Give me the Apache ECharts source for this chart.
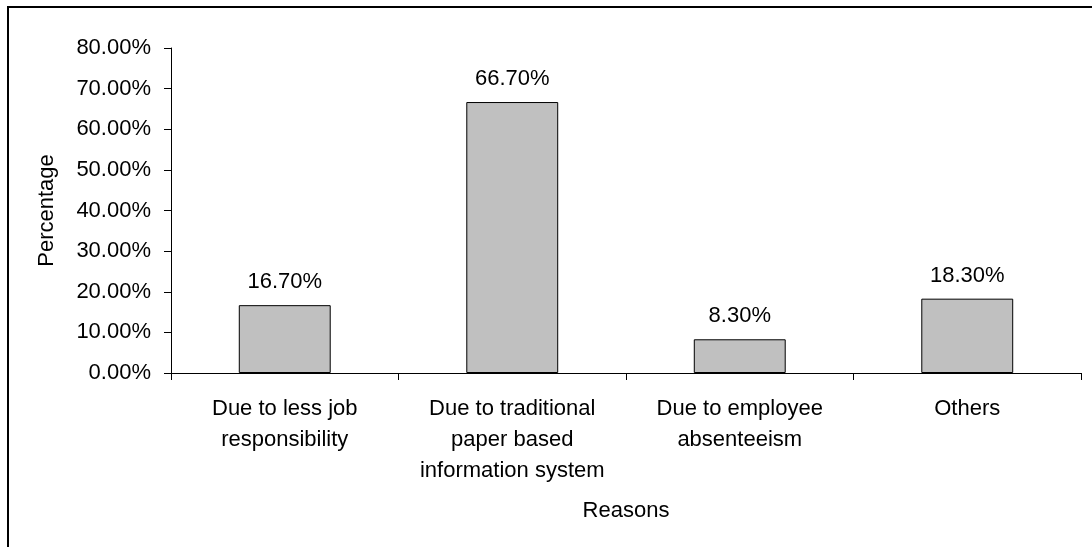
<!DOCTYPE html>
<html>
<head>
<meta charset="utf-8">
<script src="https://cdn.jsdelivr.net/npm/echarts@6/dist/echarts.min.js"></script>
<style>
  html, body { margin: 0; padding: 0; background: #fff; }
  #chart { width: 1092px; height: 547px; }
</style>
</head>
<body>
<div id="chart"></div>
<script>
// reasons and percentage of respondents
const categories = [
  'Due to less job\nresponsibility',
  'Due to traditional\npaper based\ninformation system',
  'Due to employee\nabsenteeism',
  'Others'
]
const percentages = [16.7, 66.7, 8.3, 18.3]
const yMin = 0
const yMax = 80
const yStep = 10

const font = '"Liberation Sans", Arial, sans-serif'
const fontSize = 22

let myChart = echarts.init(document.getElementById('chart'))

let option = {
  animation: false,
  backgroundColor: '#fff',
  textStyle: { fontFamily: font, color: '#000' },
  // outer frame (only top and left edges show in the picture)
  graphic: [{
    type: 'rect',
    shape: { x: 8, y: 7, width: 1300, height: 800 },
    style: { fill: 'none', stroke: '#000', lineWidth: 2 },
    silent: true
  }],
  grid: {
    left: 171,
    right: 11,
    top: 48,
    bottom: 174
  },
  xAxis: {
    type: 'category',
    data: categories,
    name: 'Reasons',
    nameLocation: 'middle',
    nameGap: 127,
    nameTextStyle: { fontSize: fontSize, color: '#000', fontFamily: font },
    axisLine: { lineStyle: { color: '#000', width: 1 } },
    axisTick: { show: true, length: 7, lineStyle: { color: '#000' } },
    axisLabel: {
      interval: 0,
      margin: 20,
      fontSize: fontSize,
      lineHeight: 31,
      color: '#000',
      fontFamily: font
    }
  },
  yAxis: {
    type: 'value',
    min: yMin,
    max: yMax,
    interval: yStep,
    name: 'Percentage',
    nameLocation: 'middle',
    nameGap: 113,
    nameTextStyle: { fontSize: fontSize, color: '#000', fontFamily: font },
    axisLine: { show: true, lineStyle: { color: '#000', width: 1 } },
    axisTick: { show: true, length: 7, lineStyle: { color: '#000' } },
    splitLine: { show: false },
    axisLabel: {
      margin: 20,
      fontSize: fontSize,
      color: '#000',
      fontFamily: font,
      formatter: v => v.toFixed(2) + '%'
    }
  },
  series: [{
    type: 'bar',
    data: percentages,
    barWidth: '40.4%',
    itemStyle: { color: '#c0c0c0', borderColor: '#000', borderWidth: 1 },
    label: {
      show: true,
      position: 'top',
      distance: 12,
      fontSize: fontSize,
      color: '#000',
      fontFamily: font,
      formatter: p => p.value.toFixed(2) + '%'
    }
  }]
}
myChart.setOption(option)
</script>
</body>
</html>
